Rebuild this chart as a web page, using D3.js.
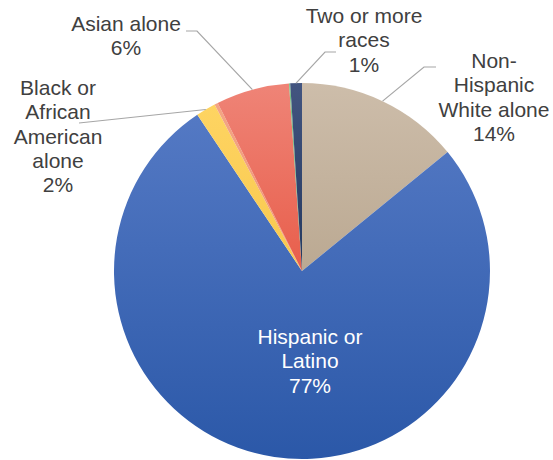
<!DOCTYPE html>
<html>
<head>
<meta charset="utf-8">
<script src="https://cdn.jsdelivr.net/npm/d3@7"></script>
<style>
  body { margin: 0; background: #fff; }
  text { font-family: "Liberation Sans", Arial, sans-serif; }
</style>
</head>
<body>
<div id="chart"></div>
<script>
// slices clockwise from 12 o'clock
const categories = [
  "Non-Hispanic White alone",
  "Hispanic or Latino",
  "Black or African American alone",
  "American Indian and Alaska Native alone",
  "Asian alone",
  "Native Hawaiian and Other Pacific Islander alone",
  "Two or more races"
];
const shares = [14.1, 76.5, 1.7, 0.3, 6.3, 0.1, 1.0];
const labelLines = [
  ["Non-", "Hispanic", "White alone", "14%"],
  ["Hispanic or", "Latino", "77%"],
  ["Black or", "African", "American", "alone", "2%"],
  null,
  ["Asian alone", "6%"],
  null,
  ["Two or more", "races", "1%"]
];

// colours: [top, bottom] of each slice's gradient
const sliceColors = [
  ["#cdbdaa", "#bba992"],
  ["#5479c4", "#2b58a8"],
  ["#fed462", "#f8c84e"],
  ["#f3a585", "#ee9572"],
  ["#ef8477", "#e85e4b"],
  ["#74c283", "#5fb070"],
  ["#435580", "#22375e"]
];

const width = 553, height = 460;
const cx = 302, cy = 271, r = 188;

// label anchor (centre x, first baseline) and leader stub points
const labelLayout = [
  {x: 494, y: 68, color: "#404040", leader: [[436, 67], [424, 67]]},
  {x: 310, y: 344, color: "#ffffff", leader: null},
  {x: 58, y: 95, color: "#404040", leader: [[79, 123]]},
  null,
  {x: 126, y: 31, color: "#404040", leader: [[186, 31], [197, 31]]},
  null,
  {x: 364, y: 23, color: "#404040", leader: [[336, 52], [325, 52]]}
];

const svg = d3.select("#chart").append("svg")
  .attr("width", width).attr("height", height);

const defs = svg.append("defs");
sliceColors.forEach((c, i) => {
  const grad = defs.append("linearGradient")
    .attr("id", "grad" + i)
    .attr("x1", 0).attr("y1", 0).attr("x2", 0).attr("y2", 1);
  grad.append("stop").attr("offset", "0%").attr("stop-color", c[0]);
  grad.append("stop").attr("offset", "100%").attr("stop-color", c[1]);
});

const data = categories.map((name, i) => ({name, value: shares[i], i}));

const pie = d3.pie().sort(null).value(d => d.value);
const arcs = pie(data);

const arc = d3.arc().innerRadius(0).outerRadius(r);
const edgeArc = d3.arc().innerRadius(r).outerRadius(r);

const g = svg.append("g").attr("transform", `translate(${cx},${cy})`);

g.selectAll("path.slice").data(arcs).enter()
  .append("path")
  .attr("class", "slice")
  .attr("d", arc)
  .attr("fill", d => `url(#grad${d.data.i})`);

// leader lines
const leaders = svg.append("g");
arcs.forEach(d => {
  const lay = labelLayout[d.data.i];
  if (!lay || !lay.leader) return;
  const c = edgeArc.centroid(d);
  const pts = lay.leader.concat([[cx + c[0], cy + c[1]]]);
  leaders.append("path")
    .attr("d", d3.line()(pts))
    .attr("fill", "none")
    .attr("stroke", "#a6a6a6")
    .attr("stroke-width", 1.2);
});

// labels
const labels = svg.append("g");
arcs.forEach(d => {
  const lay = labelLayout[d.data.i];
  const lines = labelLines[d.data.i];
  if (!lay || !lines) return;
  const t = labels.append("text")
    .attr("text-anchor", "middle")
    .attr("font-size", "21px")
    .attr("fill", lay.color);
  lines.forEach((ln, k) => {
    t.append("tspan")
      .attr("x", lay.x)
      .attr("y", lay.y + k * 24.3)
      .text(ln);
  });
});
</script>
</body>
</html>
